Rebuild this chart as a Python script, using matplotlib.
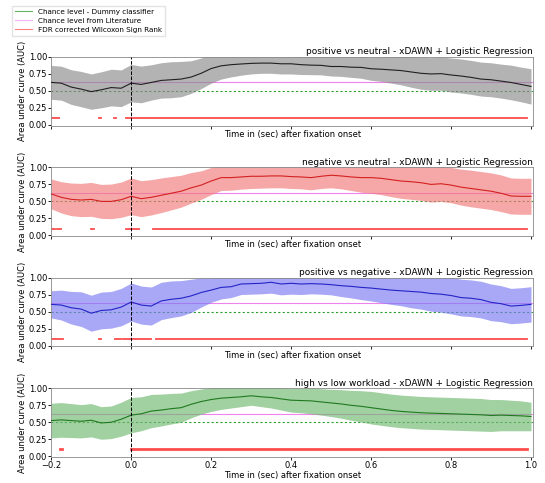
import numpy as np
import matplotlib
matplotlib.use('Agg')
import matplotlib.pyplot as plt
from matplotlib.lines import Line2D

# time axis (sec after fixation onset)
times = np.linspace(-0.2, 1.0, 49)

titles = ['positive vs neutral - xDAWN + Logistic Regression',
          'negative vs neutral - xDAWN + Logistic Regression',
          'positive vs negative - xDAWN + Logistic Regression',
          'high vs low workload - xDAWN + Logistic Regression']

auc_pos_neu = [0.626, 0.615, 0.557, 0.527, 0.49, 0.517, 0.55, 0.54, 0.615,
               0.596, 0.625, 0.655, 0.665, 0.675, 0.705, 0.76, 0.83,
               0.87, 0.887, 0.897, 0.906, 0.91, 0.91, 0.90, 0.90,
               0.887, 0.88, 0.877, 0.86, 0.86, 0.85, 0.847, 0.827,
               0.82, 0.81, 0.80, 0.78, 0.76, 0.75, 0.755, 0.735,
               0.72, 0.70, 0.675, 0.665, 0.645, 0.625, 0.596, 0.567]
std_pos_neu = [0.25, 0.25, 0.255, 0.26, 0.26, 0.265, 0.27, 0.27, 0.275,
               0.27, 0.26, 0.26, 0.265, 0.26, 0.24, 0.225, 0.215,
               0.195, 0.18, 0.165, 0.155, 0.15, 0.15, 0.15, 0.15,
               0.145, 0.14, 0.14, 0.14, 0.145, 0.15, 0.16, 0.17,
               0.18, 0.195, 0.21, 0.225, 0.235, 0.24, 0.245, 0.25,
               0.25, 0.25, 0.25, 0.25, 0.25, 0.255, 0.255, 0.26]

auc_neg_neu = [0.61, 0.56, 0.53, 0.52, 0.53, 0.50, 0.50, 0.525, 0.575,
               0.54, 0.56, 0.59, 0.62, 0.65, 0.70, 0.74, 0.80,
               0.85, 0.85, 0.86, 0.87, 0.87, 0.875, 0.875, 0.865,
               0.86, 0.85, 0.87, 0.885, 0.875, 0.86, 0.85, 0.85,
               0.84, 0.82, 0.80, 0.79, 0.775, 0.75, 0.76, 0.74,
               0.71, 0.69, 0.67, 0.65, 0.62, 0.58, 0.575, 0.575]
std_neg_neu = [0.22, 0.23, 0.24, 0.245, 0.25, 0.25, 0.255, 0.26, 0.27,
               0.265, 0.26, 0.255, 0.245, 0.235, 0.225, 0.21, 0.2,
               0.19, 0.185, 0.18, 0.18, 0.175, 0.175, 0.175, 0.175,
               0.175, 0.18, 0.18, 0.185, 0.19, 0.2, 0.215, 0.23,
               0.24, 0.25, 0.255, 0.26, 0.26, 0.26, 0.26, 0.26,
               0.265, 0.27, 0.27, 0.27, 0.27, 0.265, 0.265, 0.265]

auc_pos_neg = [0.61, 0.60, 0.56, 0.54, 0.48, 0.52, 0.53, 0.57, 0.645,
               0.60, 0.585, 0.66, 0.685, 0.70, 0.735, 0.785, 0.82,
               0.86, 0.87, 0.91, 0.915, 0.92, 0.935, 0.91, 0.92,
               0.91, 0.915, 0.91, 0.90, 0.885, 0.875, 0.86, 0.85,
               0.835, 0.82, 0.81, 0.80, 0.79, 0.77, 0.76, 0.74,
               0.71, 0.70, 0.68, 0.64, 0.62, 0.585, 0.595, 0.61]
std_pos_neg = [0.2, 0.22, 0.24, 0.255, 0.265, 0.27, 0.27, 0.275, 0.28,
               0.28, 0.28, 0.275, 0.27, 0.26, 0.245, 0.215, 0.18,
               0.17, 0.16, 0.155, 0.155, 0.155, 0.16, 0.16, 0.16,
               0.155, 0.15, 0.15, 0.15, 0.16, 0.17, 0.18, 0.19,
               0.2, 0.21, 0.22, 0.24, 0.25, 0.26, 0.265, 0.27,
               0.27, 0.27, 0.27, 0.27, 0.265, 0.26, 0.26, 0.26]

auc_workload = [0.525, 0.535, 0.525, 0.515, 0.53, 0.49, 0.50, 0.545, 0.605,
                0.625, 0.665, 0.68, 0.70, 0.715, 0.765, 0.805, 0.835,
                0.855, 0.865, 0.875, 0.89, 0.875, 0.865, 0.845, 0.825,
                0.82, 0.815, 0.80, 0.785, 0.77, 0.75, 0.735, 0.715,
                0.695, 0.675, 0.66, 0.65, 0.64, 0.635, 0.63, 0.625,
                0.62, 0.615, 0.61, 0.60, 0.605, 0.60, 0.595, 0.585]
std_workload = [0.255, 0.255, 0.25, 0.245, 0.245, 0.24, 0.24, 0.25, 0.26,
                0.25, 0.245, 0.235, 0.225, 0.215, 0.2, 0.185, 0.175,
                0.165, 0.155, 0.145, 0.14, 0.145, 0.155, 0.165, 0.175,
                0.18, 0.19, 0.195, 0.2, 0.21, 0.22, 0.23, 0.24,
                0.24, 0.24, 0.24, 0.24, 0.24, 0.24, 0.24, 0.24,
                0.24, 0.24, 0.24, 0.235, 0.23, 0.225, 0.22, 0.21]

# FDR corrected significant time windows (start, end)
sig_pos_neu = [(-0.2, -0.18), (-0.081, -0.075), (-0.043, -0.037), (-0.013, 0.99)]
sig_neg_neu = [(-0.2, -0.19), (-0.186, -0.176), (-0.1, -0.094), (-0.013, 0.02), (0.055, 0.99)]
sig_pos_neg = [(-0.2, -0.17), (-0.081, -0.075), (-0.04, -0.025), (-0.02, 0.05), (0.063, 0.99)]
sig_workload = [(-0.178, -0.172), (0.0, 0.99)]

CHANCE_DUMMY = 0.5
CHANCE_LITERATURE = 0.625
SIG_LEVEL = 0.1

means = [auc_pos_neu, auc_neg_neu, auc_pos_neg, auc_workload]
stds = [std_pos_neu, std_neg_neu, std_pos_neg, std_workload]
sigs = [sig_pos_neu, sig_neg_neu, sig_pos_neg, sig_workload]
band_colors = ['#8a8a8a', '#f27a7a', '#7a7af2', '#6fb86f']
line_colors = ['#202020', '#d42020', '#2424c8', '#1f7a1f']

fig, axes = plt.subplots(4, 1, figsize=(5.45, 4.83), dpi=100, sharex=True)
fig.subplots_adjust(left=0.094, right=0.978, bottom=0.054, top=0.882, hspace=0.61)

for i, ax in enumerate(axes):
    m = np.array(means[i])
    s = np.array(stds[i])
    ax.axhline(CHANCE_DUMMY, color='#2e9e2e', linestyle=(0, (2, 2)), linewidth=0.8, zorder=2)
    ax.axhline(CHANCE_LITERATURE, color='violet', linewidth=0.8, zorder=2)
    for start, end in sigs[i]:
        ax.hlines(SIG_LEVEL, start, end, color='red', alpha=0.7,
                  linewidth=2.0 if i == 3 else 1.3, capstyle='projecting')
    ax.fill_between(times, m - s, m + s, color=band_colors[i], alpha=0.65,
                    linewidth=0, zorder=2.5)
    ax.plot(times, m, color=line_colors[i], linewidth=0.8, zorder=3)
    ax.axvline(0, color='k', linestyle='--', linewidth=0.7, zorder=3)
    ax.set_xlim(-0.2, 1.005)
    ax.set_ylim(-0.01, 1.0)
    ax.set_yticks([0.0, 0.25, 0.5, 0.75, 1.0])
    ax.set_title(titles[i], loc='right', fontsize=6.5, pad=2)
    ax.set_xlabel('Time in (sec) after fixation onset', fontsize=6, labelpad=1)
    ax.set_ylabel('Area under curve (AUC)', fontsize=6, labelpad=1)
    ax.tick_params(labelsize=6, length=2, width=0.6, pad=1)
    ax.xaxis.set_tick_params(labelbottom=(i == 3))
    for sp in ax.spines.values():
        sp.set_linewidth(0.6)
        sp.set_color('#888888')

handles = [Line2D([], [], color='g', linewidth=0.8, alpha=0.6),
           Line2D([], [], color='violet', linewidth=0.8, alpha=0.6),
           Line2D([], [], color='red', linewidth=0.8, alpha=0.5)]
fig.legend(handles, ['Chance level - Dummy classifier',
                     'Chance level from Literature',
                     'FDR corrected Wilcoxon Sign Rank'],
           loc='upper left', bbox_to_anchor=(0.015, 0.995), fontsize=5.2,
           frameon=True, edgecolor='#dddddd', fancybox=False,
           handlelength=2.4, borderpad=0.4, labelspacing=0.4)

fig.savefig('out.png', dpi=100)
